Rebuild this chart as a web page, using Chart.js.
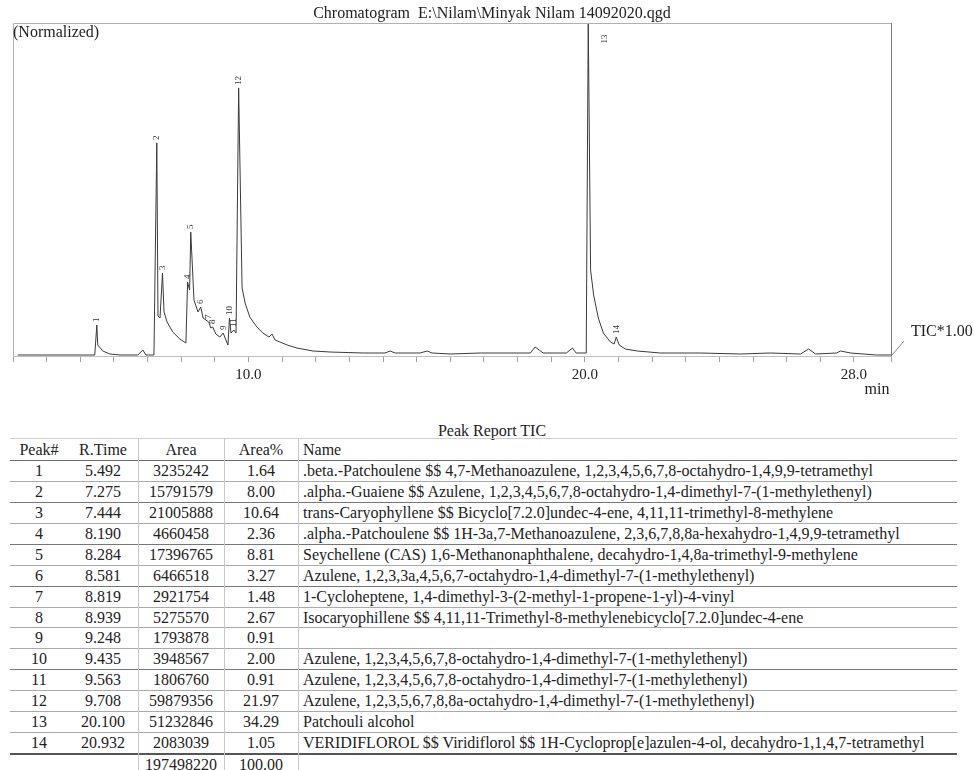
<!DOCTYPE html>
<html><head><meta charset="utf-8">
<script src="https://cdn.jsdelivr.net/npm/chart.js@4.4.0/dist/chart.umd.min.js"></script>
<style>
body{margin:0;background:#fff;font-family:"Liberation Serif","Times New Roman",serif;color:#222;}
#wrap{position:relative;width:974px;height:770px;overflow:hidden;background:#fff;}
#c{position:absolute;left:0;top:0;}
.cell{position:absolute;white-space:nowrap;font-size:16px;line-height:21px;height:21px;color:#222;}
.hl{position:absolute;height:0;}
.vl{position:absolute;width:0;border-left:1px solid #c8c8c8;}
</style></head><body>
<div id="wrap"><canvas id="c" width="974" height="400"></canvas><div id="tbl"></div></div>
<script>
// ---- chart texts ----
const chartTitle = "Chromatogram  E:\\Nilam\\Minyak Nilam 14092020.qgd";
const yNote = "(Normalized)";
const traceName = "TIC*1.00";
const xUnit = "min";
const xLabelTicks = [10, 20, 28];

// ---- chromatogram trace (retention time, min ; normalized intensity, %) ----
const traceTime = [3.14, 5.43, 5.492, 5.52, 5.67, 5.88, 6.18, 6.71, 6.86, 6.95, 7.19, 7.275, 7.31, 7.37, 7.444, 7.49, 7.58, 7.75, 7.96, 8.14, 8.19, 8.25, 8.284, 8.38, 8.50, 8.581, 8.65, 8.819, 8.88, 8.939, 9.03, 9.15, 9.248, 9.33, 9.39, 9.435, 9.48, 9.563, 9.63, 9.708, 9.81, 9.90, 10.04, 10.25, 10.43, 10.61, 10.70, 10.79, 11.15, 11.44, 11.92, 12.42, 13.41, 14.06, 14.21, 14.36, 15.10, 15.31, 15.46, 16.0, 16.89, 18.38, 18.52, 18.76, 19.45, 19.63, 19.74, 20.04, 20.10, 20.17, 20.26, 20.40, 20.55, 20.76, 20.87, 20.932, 21.02, 21.20, 21.56, 22.24, 23.43, 24.62, 25.51, 26.41, 26.65, 26.86, 27.48, 27.60, 27.90, 28.67, 29.10];
const traceIntensity = [0.3, 0.3, 9.3, 3.3, 1.5, 0.6, 0.3, 0.3, 1.8, 0.3, 0.3, 64.0, 12.0, 11.4, 24.9, 13.2, 10.2, 7.2, 5.1, 3.9, 22.2, 19.8, 37.2, 16.8, 13.2, 14.7, 11.4, 10.2, 8.4, 8.7, 6.6, 5.7, 6.9, 4.8, 3.3, 11.4, 6.9, 7.8, 6.9, 80.5, 20.4, 15.9, 11.7, 8.7, 6.9, 5.7, 6.6, 4.8, 3.3, 2.4, 1.5, 1.2, 0.9, 0.9, 1.5, 0.9, 0.9, 1.5, 0.9, 0.6, 0.9, 0.9, 2.7, 0.9, 0.9, 2.4, 0.9, 0.9, 100, 25.8, 18.3, 11.4, 6.9, 4.2, 3.6, 5.7, 3.3, 2.1, 1.5, 0.9, 0.9, 0.6, 0.9, 0.6, 2.1, 0.6, 0.9, 1.5, 0.9, 0.3, 0.3];

// ---- peak report ----
const reportTitle = "Peak Report TIC";
const headers = ["Peak#", "R.Time", "Area", "Area%", "Name"];
const peakNo = [1,2,3,4,5,6,7,8,9,10,11,12,13,14];
const rTime = [5.492, 7.275, 7.444, 8.190, 8.284, 8.581, 8.819, 8.939, 9.248, 9.435, 9.563, 9.708, 20.100, 20.932];
const area = [3235242, 15791579, 21005888, 4660458, 17396765, 6466518, 2921754, 5275570, 1793878, 3948567, 1806760, 59879356, 51232846, 2083039];
const areaPct = [1.64, 8.00, 10.64, 2.36, 8.81, 3.27, 1.48, 2.67, 0.91, 2.00, 0.91, 21.97, 34.29, 1.05];
const names = [
 ".beta.-Patchoulene $$ 4,7-Methanoazulene, 1,2,3,4,5,6,7,8-octahydro-1,4,9,9-tetramethyl",
 ".alpha.-Guaiene $$ Azulene, 1,2,3,4,5,6,7,8-octahydro-1,4-dimethyl-7-(1-methylethenyl)",
 "trans-Caryophyllene $$ Bicyclo[7.2.0]undec-4-ene, 4,11,11-trimethyl-8-methylene",
 ".alpha.-Patchoulene $$ 1H-3a,7-Methanoazulene, 2,3,6,7,8,8a-hexahydro-1,4,9,9-tetramethyl",
 "Seychellene (CAS) 1,6-Methanonaphthalene, decahydro-1,4,8a-trimethyl-9-methylene",
 "Azulene, 1,2,3,3a,4,5,6,7-octahydro-1,4-dimethyl-7-(1-methylethenyl)",
 "1-Cycloheptene, 1,4-dimethyl-3-(2-methyl-1-propene-1-yl)-4-vinyl",
 "Isocaryophillene $$ 4,11,11-Trimethyl-8-methylenebicyclo[7.2.0]undec-4-ene",
 "",
 "Azulene, 1,2,3,4,5,6,7,8-octahydro-1,4-dimethyl-7-(1-methylethenyl)",
 "Azulene, 1,2,3,4,5,6,7,8-octahydro-1,4-dimethyl-7-(1-methylethenyl)",
 "Azulene, 1,2,3,5,6,7,8,8a-octahydro-1,4-dimethyl-7-(1-methylethenyl)",
 "Patchouli alcohol",
 "VERIDIFLOROL $$ Viridiflorol $$ 1H-Cycloprop[e]azulen-4-ol, decahydro-1,1,4,7-tetramethyl"
];
const totalArea = 197498220;
const totalPct = 100.00;

// ---- chart ----
const FONT = '"Liberation Serif", "Times New Roman", serif';
const points = traceTime.map((t, i) => ({x: t, y: traceIntensity[i]}));

const decor = {
  id: 'decor',
  afterDraw(chart) {
    const ctx = chart.ctx, a = chart.chartArea;
    const xs = chart.scales.x, ys = chart.scales.y;
    ctx.save();
    // frame
    ctx.strokeStyle = '#b0b0b0'; ctx.lineWidth = 1;
    ctx.beginPath();
    ctx.moveTo(Math.round(a.left) + 0.5, a.bottom);
    ctx.lineTo(Math.round(a.left) + 0.5, Math.round(a.top) + 0.5);
    ctx.lineTo(Math.round(a.right) + 0.5, Math.round(a.top) + 0.5);
    ctx.stroke();
    ctx.strokeStyle = '#777';
    ctx.beginPath();
    ctx.moveTo(Math.round(a.right) + 0.5, Math.round(a.top));
    ctx.lineTo(Math.round(a.right) + 0.5, a.bottom);
    ctx.stroke();
    // texts
    ctx.fillStyle = '#222';
    ctx.font = '16px ' + FONT;
    ctx.textBaseline = 'middle';
    ctx.textAlign = 'center';
    ctx.fillText(chartTitle, 492, 14);
    ctx.textAlign = 'left';
    ctx.fillText(yNote, 13, 33);
    ctx.fillText(traceName, 911, 332);
    ctx.textAlign = 'center';
    ctx.fillText(xUnit, 877, 390);
    // leader line to TIC label
    ctx.strokeStyle = '#888';
    ctx.beginPath();
    ctx.moveTo(a.right + 1, a.bottom - 1);
    ctx.lineTo(a.right + 13, a.bottom - 15);
    ctx.stroke();
    // peak numbers
    ctx.font = '9px ' + FONT;
    ctx.fillStyle = '#333';
    peakNo.forEach((p, i) => {
      let idx = traceTime.findIndex(t => Math.abs(t - rTime[i]) < 1e-6);
      const h = idx >= 0 ? traceIntensity[idx] : 0;
      let px = xs.getPixelForValue(rTime[i]);
      let py = ys.getPixelForValue(h);
      ctx.save();
      if (h > 95) { px += 16; py = a.top + 16; }
      else { py -= 3; }
      ctx.translate(px, py);
      ctx.rotate(-Math.PI / 2);
      ctx.textAlign = h > 95 ? 'center' : 'left';
      ctx.textBaseline = 'middle';
      ctx.fillText(String(p), 0, 0);
      ctx.restore();
    });
    ctx.restore();
  }
};

new Chart(document.getElementById('c'), {
  type: 'line',
  data: { datasets: [{ data: points, borderColor: '#3a3a3a', borderWidth: 1, pointRadius: 0, tension: 0, fill: false }] },
  options: {
    responsive: false, animation: false, devicePixelRatio: 1,
    layout: { padding: { left: 13, right: 83, top: 23, bottom: 0 } },
    plugins: { legend: { display: false }, tooltip: { enabled: false }, title: { display: false } },
    scales: {
      x: {
        type: 'linear', min: 3, max: 29.1,
        afterFit(s) { s.height = 44; },
        border: { display: true, color: '#c0c0c0' },
        grid: { drawOnChartArea: false, tickLength: 6, color: '#a0a0a0' },
        ticks: {
          stepSize: 1, autoSkip: false, maxRotation: 0, padding: 4,
          color: '#222', font: { family: FONT, size: 15 },
          callback: v => xLabelTicks.some(L => Math.abs(v - L) < 1e-6) ? Number(v).toFixed(1) : ''
        }
      },
      y: { display: false, min: 0, max: 100 }
    }
  },
  plugins: [decor]
});

// ---- table ----
const tbl = document.getElementById('tbl');
const colL = [10, 68, 138, 224, 298];
const colR = [68, 138, 224, 298, 957];
const headTop = 438, headH = 22, rowH = 20.93;
function cell(txt, c, top, align) {
  const d = document.createElement('div');
  d.className = 'cell';
  d.textContent = txt;
  d.style.top = top + 'px';
  if (align === 'left') { d.style.left = (colL[c] + 5) + 'px'; }
  else { d.style.left = colL[c] + 'px'; d.style.width = (colR[c] - colL[c]) + 'px'; d.style.textAlign = 'center'; }
  tbl.appendChild(d);
}
function hline(y, color, w) {
  const d = document.createElement('div');
  d.className = 'hl';
  d.style.left = '10px'; d.style.width = '947px';
  d.style.top = Math.round(y) + 'px';
  d.style.borderTop = (w || 1) + 'px solid ' + color;
  tbl.appendChild(d);
}
// title
const tt = document.createElement('div');
tt.className = 'cell';
tt.style.left = '0px'; tt.style.width = '984px'; tt.style.textAlign = 'center';
tt.style.top = '420px';
tt.textContent = reportTitle;
tbl.appendChild(tt);
// header
headers.forEach((h, c) => cell(h, c, headTop + 0.5, c === 4 ? 'left' : 'center'));
hline(headTop, '#cfcfcf');
hline(headTop + headH, '#6a6a6a');
const darkLines = [1, 3, 5, 9, 13];
peakNo.forEach((p, i) => {
  const top = headTop + headH + i * rowH;
  cell(String(p), 0, top, 'center');
  cell(rTime[i].toFixed(3), 1, top, 'center');
  cell(String(area[i]), 2, top, 'center');
  cell(areaPct[i].toFixed(2), 3, top, 'center');
  cell(names[i], 4, top, 'left');
  const last = i === peakNo.length - 1;
  hline(top + rowH, last ? '#555' : (darkLines.includes(i) ? '#777' : '#aaa'), last ? 2 : 1);
});
const totTop = headTop + headH + peakNo.length * rowH;
cell(String(totalArea), 2, totTop + 1, 'center');
cell(totalPct.toFixed(2), 3, totTop + 1, 'center');
[138, 224, 298].forEach(x => {
  const d = document.createElement('div');
  d.className = 'vl';
  d.style.left = x + 'px'; d.style.top = headTop + 'px';
  d.style.height = (totTop + 22 - headTop) + 'px';
  tbl.appendChild(d);
});
</script>
</body></html>
